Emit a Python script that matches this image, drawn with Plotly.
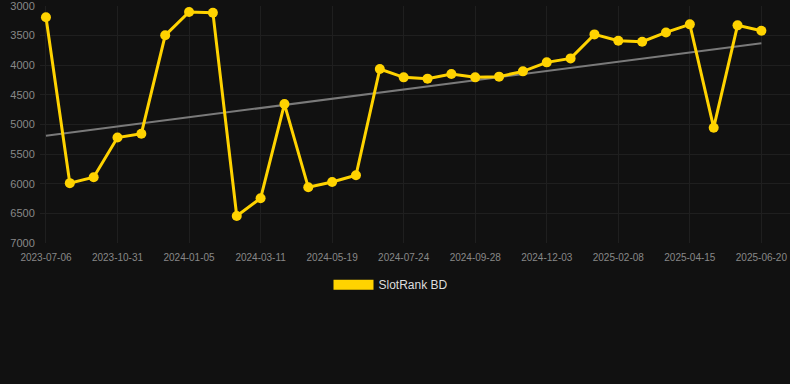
import numpy as np
import plotly.graph_objects as go

dates = [
    "2023-07-06", "2023-08-14", "2023-09-22", "2023-10-31", "2023-11-22", "2023-12-14",
    "2024-01-05", "2024-01-27", "2024-02-18", "2024-03-11", "2024-04-03", "2024-04-26",
    "2024-05-19", "2024-06-10", "2024-07-02", "2024-07-24", "2024-08-15", "2024-09-06",
    "2024-09-28", "2024-10-20", "2024-11-11", "2024-12-03", "2024-12-25", "2025-01-16",
    "2025-02-08", "2025-03-02", "2025-03-24", "2025-04-15", "2025-05-07", "2025-05-29",
    "2025-06-20",
]
ranks = [
    3190, 5990, 5890, 5220, 5155, 3495, 3100, 3113, 6545, 6245, 4655, 6060,
    5970, 5857, 4063, 4204, 4226, 4148, 4204, 4192, 4103, 3951, 3884, 3479,
    3586, 3603, 3446, 3310, 5054, 3327, 3418,
]
tick_labels = dates[::3]
series_name = "SlotRank BD"

idx = np.arange(len(ranks))
slope, intercept = np.polyfit(idx, ranks, 1)
trend = slope * idx + intercept

gold = "#FFD300"
fig = go.Figure()
fig.add_trace(go.Scatter(
    x=dates, y=trend, mode="lines",
    line=dict(color="#7a7a7a", width=2),
    showlegend=False, hoverinfo="skip",
))
fig.add_trace(go.Scatter(
    x=dates, y=ranks, mode="lines+markers",
    line=dict(color=gold, width=3),
    marker=dict(color=gold, size=10),
    showlegend=False,
))
fig.add_trace(go.Scatter(
    x=[None], y=[None], mode="lines",
    line=dict(color=gold, width=12),
    name=series_name, showlegend=True,
))

fig.update_layout(
    width=790, height=384,
    paper_bgcolor="#111111", plot_bgcolor="#111111",
    margin=dict(l=40, r=0, t=6, b=141),
    font=dict(family="Liberation Sans, Arial, sans-serif", color="#888888"),
    legend=dict(
        orientation="h", x=0.468, xanchor="center", y=-0.115, yanchor="top",
        itemwidth=40,
        font=dict(size=12, color="#dddddd"), bgcolor="rgba(0,0,0,0)",
    ),
    xaxis=dict(
        type="category", categoryorder="array", categoryarray=dates,
        range=[-0.25, 31.2], automargin=False,
        tickmode="array", tickvals=tick_labels, ticktext=tick_labels,
        tickfont=dict(size=10, color="#888888"),
        ticks="outside", ticklen=5, tickcolor="rgba(0,0,0,0)",
        ticklabeloverflow="allow",
        showgrid=True, gridcolor="#1f1f1f", gridwidth=1,
        zeroline=False, showline=False,
    ),
    yaxis=dict(
        range=[7000, 3000], automargin=False,
        tickvals=[3000, 3500, 4000, 4500, 5000, 5500, 6000, 6500, 7000],
        tickfont=dict(size=11, color="#888888"),
        ticks="outside", ticklen=2, tickcolor="rgba(0,0,0,0)",
        ticklabeloverflow="allow",
        showgrid=True, gridcolor="#1f1f1f", gridwidth=1,
        zeroline=False, showline=False,
    ),
)

fig.write_html(
    "out.html",
    config={"displayModeBar": False},
    post_script="document.body.style.margin='0';document.body.style.background='#111111';",
)
